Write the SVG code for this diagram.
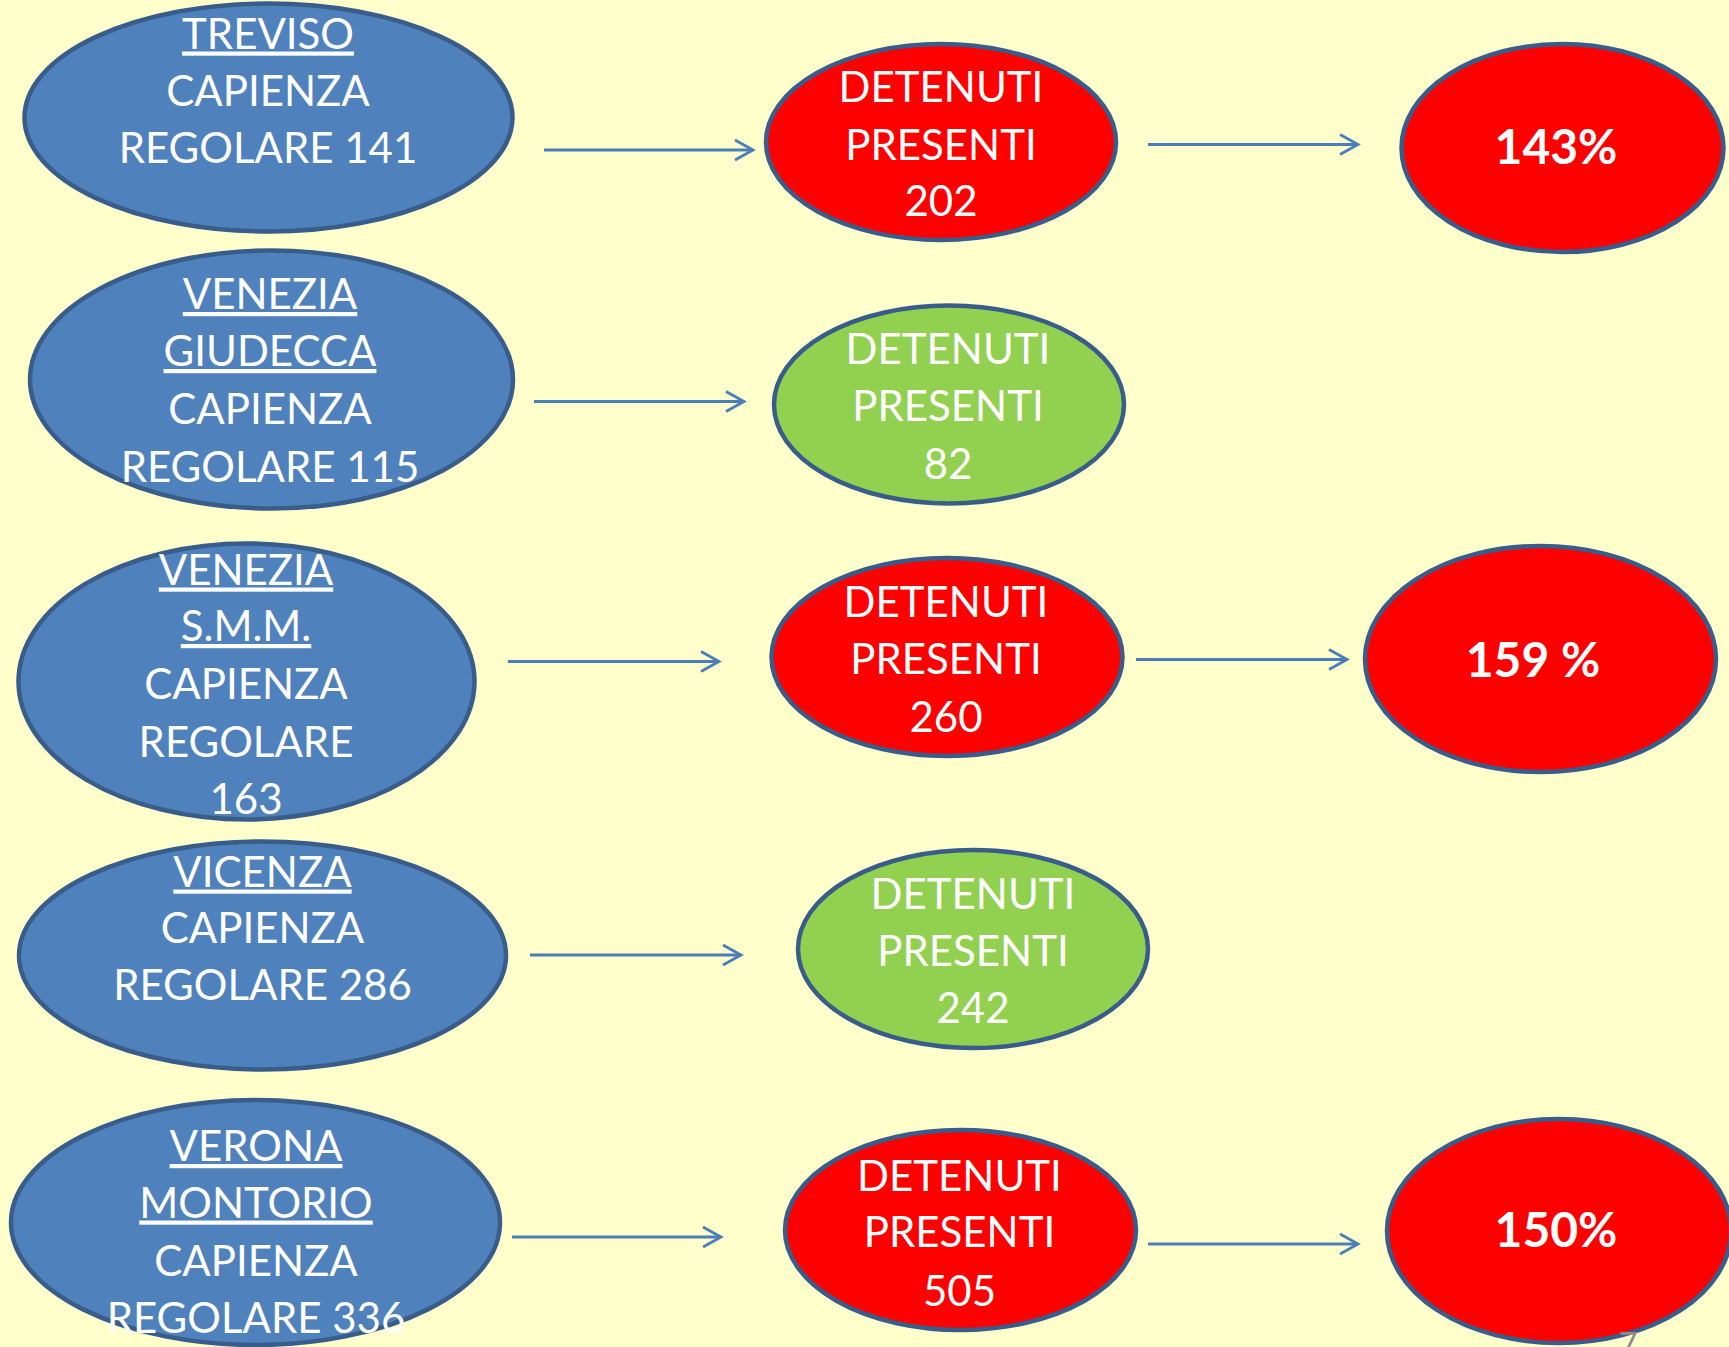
<svg xmlns="http://www.w3.org/2000/svg" width="1729" height="1347" viewBox="0 0 1729 1347">
<defs>
<marker id="arr" markerWidth="24" markerHeight="24" refX="20" refY="12" orient="auto" markerUnits="userSpaceOnUse">
<path d="M2,2 L20,12 L2,22" fill="none" stroke="#4A7EBB" stroke-width="2.8"/>
</marker>
<style>
.blue{fill:#4F81BD;stroke:#385D8A;stroke-width:4.5}
.red{fill:#FF0000;stroke:#385D8A;stroke-width:4.5}
.green{fill:#92D050;stroke:#385D8A;stroke-width:4.5}
text{font-family:Lato,"Liberation Sans",sans-serif;font-size:42px;fill:#FFFFFF;text-anchor:middle}
.u{text-decoration:underline}
.pct{font-weight:bold;font-size:48px}
.conn line{stroke:#4A7EBB;stroke-width:2.8;marker-end:url(#arr)}
</style>
</defs>
<rect width="1729" height="1347" fill="#FFFFCC"/>
<g id="connectors" class="conn">
<line x1="544" y1="150" x2="753" y2="150"/>
<line x1="1148" y1="144.5" x2="1358" y2="144.5"/>
<line x1="534" y1="401.5" x2="744" y2="401.5"/>
<line x1="508" y1="661.5" x2="719" y2="661.5"/>
<line x1="1136" y1="659.5" x2="1347" y2="659.5"/>
<line x1="530" y1="955" x2="741" y2="955"/>
<line x1="512" y1="1237" x2="721" y2="1237"/>
<line x1="1148" y1="1244" x2="1358" y2="1244"/>
</g>
<g id="treviso">
<ellipse class="blue" cx="268.5" cy="117.5" rx="244" ry="114"/>
<text x="268" y="48.5" class="u">TREVISO</text>
<text x="268" y="106">CAPIENZA</text>
<text x="268" y="163">REGOLARE 141</text>
</g>
<g id="treviso-detenuti">
<ellipse class="red" cx="941" cy="142" rx="175" ry="98"/>
<text x="941" y="101.5">DETENUTI</text>
<text x="941" y="160">PRESENTI</text>
<text x="941" y="216">202</text>
</g>
<g id="treviso-pct">
<ellipse class="red" cx="1562.5" cy="148" rx="161" ry="104"/>
<text x="1556" y="164" class="pct">143%</text>
</g>
<g id="giudecca">
<ellipse class="blue" cx="271.5" cy="379.5" rx="241.5" ry="129"/>
<text x="270" y="309" class="u">VENEZIA</text>
<text x="270" y="366" class="u">GIUDECCA</text>
<text x="270" y="423.5">CAPIENZA</text>
<text x="270" y="482">REGOLARE 115</text>
</g>
<g id="giudecca-detenuti">
<ellipse class="green" cx="949" cy="404.5" rx="175" ry="99"/>
<text x="948" y="364">DETENUTI</text>
<text x="948" y="421">PRESENTI</text>
<text x="948" y="478.5">82</text>
</g>
<g id="smm">
<ellipse class="blue" cx="246.5" cy="681.5" rx="228" ry="138"/>
<text x="246" y="584.5" class="u">VENEZIA</text>
<text x="246" y="641" class="u">S.M.M.</text>
<text x="246" y="699">CAPIENZA</text>
<text x="246" y="756.5">REGOLARE</text>
<text x="246" y="814">163</text>
</g>
<g id="smm-detenuti">
<ellipse class="red" cx="947" cy="657" rx="175.5" ry="99"/>
<text x="946" y="616.5">DETENUTI</text>
<text x="946" y="674">PRESENTI</text>
<text x="946" y="732">260</text>
</g>
<g id="smm-pct">
<ellipse class="red" cx="1540.5" cy="659" rx="175.5" ry="113"/>
<text x="1533" y="677" class="pct">159 %</text>
</g>
<g id="vicenza">
<ellipse class="blue" cx="262.5" cy="955.5" rx="243.5" ry="114"/>
<text x="262.5" y="886.5" class="u">VICENZA</text>
<text x="262.5" y="943">CAPIENZA</text>
<text x="262.5" y="1000">REGOLARE 286</text>
</g>
<g id="vicenza-detenuti">
<ellipse class="green" cx="973" cy="949" rx="175" ry="99"/>
<text x="973" y="908.5">DETENUTI</text>
<text x="973" y="966">PRESENTI</text>
<text x="973" y="1023">242</text>
</g>
<g id="verona">
<ellipse class="blue" cx="255.5" cy="1222.5" rx="244.5" ry="122.5"/>
<text x="256" y="1161" class="u">VERONA</text>
<text x="256" y="1217.5" class="u">MONTORIO</text>
<text x="256" y="1276">CAPIENZA</text>
<text x="256" y="1333">REGOLARE 336</text>
</g>
<g id="verona-detenuti">
<ellipse class="red" cx="960.5" cy="1230" rx="175.5" ry="100"/>
<text x="959.5" y="1191">DETENUTI</text>
<text x="959.5" y="1247">PRESENTI</text>
<text x="959.5" y="1305.5">505</text>
</g>
<g id="verona-pct">
<ellipse class="red" cx="1559" cy="1231" rx="172" ry="112"/>
<text x="1556" y="1247" class="pct">150%</text>
</g>
<text x="1628" y="1356" style="font-size:32px;fill:#8C8C8C">7</text>
</svg>
